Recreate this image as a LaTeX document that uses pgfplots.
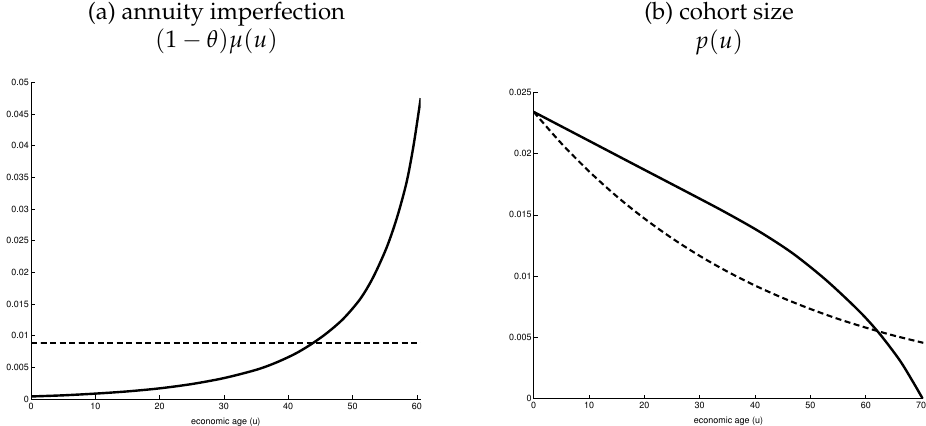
\documentclass[border=0pt]{standalone}
\usepackage[T1]{fontenc}
\usepackage{mathpazo}
\usepackage{helvet}
\usepackage{pgfplots}
\pgfplotsset{compat=1.18}
\begin{document}
\begin{tikzpicture}
\useasboundingbox (0bp,0bp) rectangle (926bp,426bp);
\pgfplotsset{
  base/.style={
    scale only axis,
    axis x line*=bottom, axis y line*=left,
    axis line style={-, line width=0.6bp, black},
    tick align=inside, major tick length=4bp,
    every tick/.style={line width=0.6bp, black},
    scaled x ticks=false, scaled y ticks=false,
    tick label style={font=\fontfamily{phv}\fontsize{9}{10}\selectfont},
    xticklabel style={inner sep=0pt, anchor=north, yshift=-3.5bp},
    yticklabel style={inner sep=0pt, anchor=east, xshift=-2bp},
    xlabel style={font=\fontfamily{phv}\fontsize{9}{10}\selectfont, at={(axis description cs:0.5,0)}, anchor=base, yshift=-25bp},
    title style={anchor=north, align=center, inner sep=0pt, font=\fontsize{24}{29}\selectfont},
    xmin=0, ymin=0,
    xlabel={economic age (u)},
  },
  solidc/.style={black, line width=2.4bp, line join=round, smooth, tension=0.5},
  dashc/.style={black, line width=2.1bp, dash pattern=on 6bp off 3.5bp, smooth, tension=0.5},
}
% ---------------- (a) ----------------
\begin{axis}[base,
  at={(31bp,27bp)}, anchor=south west,
  width=389.7bp, height=316.7bp,
  xmax=60.6, ymax=0.05,
  xtick={0,10,20,30,40,50,60}, xticklabels={0,10,20,30,40,50,60},
  ytick={0,0.005,0.01,0.015,0.02,0.025,0.03,0.035,0.04,0.045,0.05},
  yticklabels={0,0.005,0.01,0.015,0.02,0.025,0.03,0.035,0.04,0.045,0.05},
  title={(a) annuity imperfection\\$(1-\theta)\mu(u)$},
  title style={at={(axis description cs:0.476,1.236)}},
]
\addplot[solidc] coordinates {
(0,0.00040) (5,0.00058) (10,0.00085) (15,0.00120) (20,0.00168) (25,0.00236)
(30,0.00330) (35,0.00460) (38,0.00570) (41,0.00710) (43.5,0.00860)
(46,0.01040) (48.6,0.01270) (51.2,0.01580) (53.2,0.01920) (55.3,0.02390)
(56.9,0.02860) (58.4,0.03420) (59.5,0.04010) (60.6,0.04750)
};
\addplot[dashc] coordinates {(0,0.0088) (60.6,0.0088)};
\end{axis}
% ---------------- (b) ----------------
\begin{axis}[base,
  at={(533.7bp,27.3bp)}, anchor=south west,
  width=389.6bp, height=306.4bp,
  xmax=70.4, ymax=0.025,
  xtick={0,10,20,30,40,50,60,70}, xticklabels={0,10,20,30,40,50,60,70},
  ytick={0,0.005,0.01,0.015,0.02,0.025},
  yticklabels={0,0.005,0.01,0.015,0.02,0.025},
  title={(b) cohort size\\$p(u)$},
  title style={at={(axis description cs:0.4756,1.275)}},
]
\addplot[solidc] coordinates {
(0,0.02340) (10,0.02104) (17.4,0.01929) (25,0.01750) (30,0.01632)
(34.75,0.01518) (40.8,0.01363) (46.8,0.01186) (52.8,0.00969) (58.8,0.00715)
(62.5,0.00530) (66.1,0.00316) (68.5,0.00140) (70.0,0.00023) (70.3,0)
};
\addplot[dashc] coordinates {
(0,0.02340) (5,0.02083) (10,0.01855) (15,0.01651) (20,0.01470) (25,0.01309)
(30,0.01165) (35,0.01037) (40,0.00923) (45,0.00822) (50,0.00732) (55,0.00651)
(60,0.00580) (65,0.00516) (70.4,0.00456)
};
\end{axis}
\end{tikzpicture}
\end{document}
